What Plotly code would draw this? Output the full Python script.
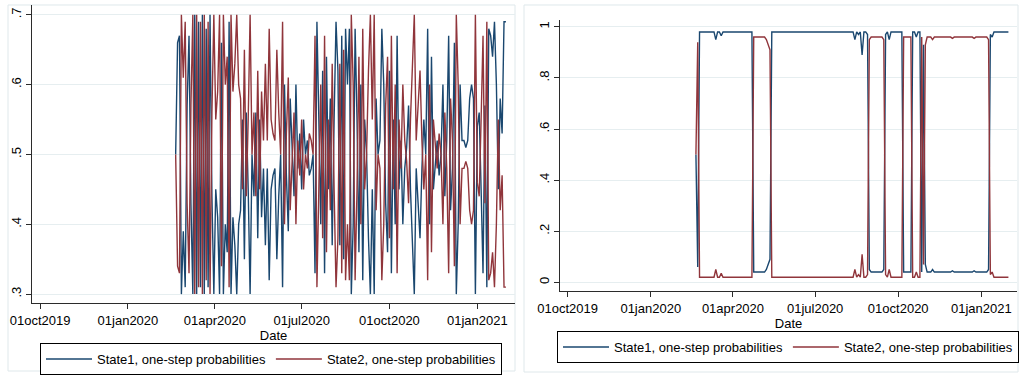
import pandas as pd
import plotly.graph_objects as go

# ---------------- data ----------------
start_date = "2020-02-20"
step = "2D"

left_state1 = [
    0.50, 0.66, 0.67, 0.30, 0.39, 0.31, 0.57, 0.67, 0.43, 0.30,
    0.70, 0.30, 0.69, 0.31, 0.70, 0.30, 0.68, 0.31, 0.70, 0.44,
    0.30, 0.45, 0.41, 0.30, 0.66, 0.30, 0.40, 0.36, 0.69, 0.30,
    0.41, 0.37, 0.30, 0.40, 0.42, 0.55, 0.35, 0.56, 0.45, 0.30,
    0.50, 0.44, 0.56, 0.38, 0.55, 0.41, 0.48, 0.37, 0.48, 0.32,
    0.45, 0.47, 0.48, 0.35, 0.44, 0.50, 0.31, 0.60, 0.47, 0.39,
    0.58, 0.52, 0.44, 0.60, 0.48, 0.53, 0.45, 0.55, 0.50, 0.52,
    0.47, 0.48, 0.50, 0.33, 0.69, 0.55, 0.40, 0.62, 0.33, 0.64,
    0.45, 0.58, 0.37, 0.55, 0.69, 0.62, 0.37, 0.67, 0.35, 0.68,
    0.60, 0.68, 0.30, 0.40, 0.68, 0.55, 0.36, 0.60, 0.32, 0.55,
    0.50, 0.38, 0.30, 0.45, 0.30, 0.58, 0.50, 0.52, 0.68, 0.60,
    0.43, 0.36, 0.62, 0.33, 0.55, 0.40, 0.67, 0.45, 0.52, 0.40,
    0.48, 0.51, 0.57, 0.45, 0.36, 0.30, 0.48, 0.42, 0.38, 0.48,
    0.55, 0.50, 0.68, 0.40, 0.64, 0.45, 0.48, 0.52, 0.47, 0.50,
    0.60, 0.44, 0.52, 0.67, 0.42, 0.48, 0.66, 0.30, 0.40, 0.60,
    0.52, 0.52, 0.51, 0.52, 0.58, 0.60, 0.58, 0.30, 0.54, 0.56,
    0.45, 0.33, 0.57, 0.31, 0.68, 0.67, 0.64, 0.69, 0.60, 0.45,
    0.58, 0.53, 0.69, 0.69,
]

left_state2 = [
    0.50, 0.34, 0.33, 0.70, 0.61, 0.69, 0.43, 0.33, 0.57, 0.70,
    0.30, 0.70, 0.31, 0.69, 0.30, 0.70, 0.32, 0.69, 0.30, 0.56,
    0.70, 0.55, 0.59, 0.70, 0.34, 0.70, 0.60, 0.64, 0.31, 0.70,
    0.59, 0.63, 0.70, 0.60, 0.58, 0.45, 0.65, 0.44, 0.55, 0.70,
    0.50, 0.56, 0.44, 0.62, 0.45, 0.59, 0.52, 0.63, 0.52, 0.68,
    0.55, 0.53, 0.52, 0.65, 0.56, 0.50, 0.69, 0.40, 0.53, 0.61,
    0.42, 0.48, 0.56, 0.40, 0.52, 0.47, 0.55, 0.45, 0.50, 0.48,
    0.53, 0.52, 0.50, 0.67, 0.31, 0.45, 0.60, 0.38, 0.67, 0.36,
    0.55, 0.42, 0.63, 0.45, 0.31, 0.38, 0.63, 0.33, 0.65, 0.32,
    0.40, 0.32, 0.70, 0.60, 0.32, 0.45, 0.64, 0.40, 0.68, 0.45,
    0.50, 0.62, 0.70, 0.55, 0.70, 0.42, 0.50, 0.48, 0.32, 0.40,
    0.57, 0.64, 0.38, 0.67, 0.45, 0.60, 0.33, 0.55, 0.48, 0.60,
    0.52, 0.49, 0.43, 0.55, 0.64, 0.70, 0.52, 0.58, 0.62, 0.52,
    0.45, 0.50, 0.32, 0.60, 0.36, 0.55, 0.52, 0.48, 0.53, 0.50,
    0.40, 0.56, 0.48, 0.33, 0.58, 0.52, 0.34, 0.70, 0.60, 0.40,
    0.48, 0.48, 0.49, 0.48, 0.42, 0.40, 0.42, 0.70, 0.46, 0.44,
    0.55, 0.67, 0.43, 0.69, 0.32, 0.33, 0.36, 0.31, 0.40, 0.55,
    0.42, 0.47, 0.31, 0.31,
]

right_state1 = [
    0.50, 0.06, 0.98, 0.98, 0.98, 0.98, 0.98, 0.98, 0.98, 0.98,
    0.98, 0.95, 0.98, 0.98, 0.965, 0.98, 0.98, 0.98, 0.98, 0.98,
    0.98, 0.98, 0.98, 0.98, 0.98, 0.98, 0.98, 0.98, 0.98, 0.98,
    0.98, 0.98, 0.04, 0.04, 0.04, 0.04, 0.04, 0.04, 0.04, 0.05,
    0.07, 0.09, 0.98, 0.98, 0.98, 0.98, 0.98, 0.98, 0.98, 0.98,
    0.98, 0.98, 0.98, 0.98, 0.98, 0.98, 0.98, 0.98, 0.98, 0.98,
    0.98, 0.98, 0.98, 0.98, 0.98, 0.98, 0.98, 0.98, 0.98, 0.98,
    0.98, 0.98, 0.98, 0.98, 0.98, 0.98, 0.98, 0.98, 0.98, 0.98,
    0.98, 0.98, 0.98, 0.98, 0.98, 0.98, 0.98, 0.98, 0.95, 0.98,
    0.97, 0.98, 0.89, 0.98, 0.98, 0.97, 0.05, 0.04, 0.04, 0.04,
    0.04, 0.04, 0.04, 0.04, 0.05, 0.97, 0.98, 0.95, 0.98, 0.98,
    0.98, 0.98, 0.98, 0.98, 0.98, 0.04, 0.04, 0.04, 0.04, 0.04,
    0.98, 0.98, 0.96, 0.98, 0.98, 0.04, 0.93, 0.07, 0.04, 0.04,
    0.04, 0.05, 0.04, 0.04, 0.04, 0.04, 0.04, 0.04, 0.04, 0.04,
    0.04, 0.04, 0.045, 0.04, 0.04, 0.04, 0.04, 0.04, 0.04, 0.04,
    0.04, 0.04, 0.04, 0.04, 0.045, 0.04, 0.04, 0.04, 0.04, 0.04,
    0.04, 0.04, 0.05, 0.97, 0.96, 0.98, 0.98, 0.98, 0.98, 0.98,
    0.98, 0.98, 0.98, 0.98,
]

right_state2 = [
    0.50, 0.94, 0.02, 0.02, 0.02, 0.02, 0.02, 0.02, 0.02, 0.02,
    0.02, 0.05, 0.02, 0.02, 0.035, 0.02, 0.02, 0.02, 0.02, 0.02,
    0.02, 0.02, 0.02, 0.02, 0.02, 0.02, 0.02, 0.02, 0.02, 0.02,
    0.02, 0.02, 0.96, 0.96, 0.96, 0.96, 0.96, 0.96, 0.96, 0.95,
    0.93, 0.91, 0.02, 0.02, 0.02, 0.02, 0.02, 0.02, 0.02, 0.02,
    0.02, 0.02, 0.02, 0.02, 0.02, 0.02, 0.02, 0.02, 0.02, 0.02,
    0.02, 0.02, 0.02, 0.02, 0.02, 0.02, 0.02, 0.02, 0.02, 0.02,
    0.02, 0.02, 0.02, 0.02, 0.02, 0.02, 0.02, 0.02, 0.02, 0.02,
    0.02, 0.02, 0.02, 0.02, 0.02, 0.02, 0.02, 0.02, 0.05, 0.02,
    0.03, 0.02, 0.11, 0.02, 0.02, 0.03, 0.95, 0.96, 0.96, 0.96,
    0.96, 0.96, 0.96, 0.96, 0.95, 0.03, 0.02, 0.05, 0.02, 0.02,
    0.02, 0.02, 0.02, 0.02, 0.02, 0.96, 0.96, 0.96, 0.96, 0.96,
    0.02, 0.02, 0.04, 0.02, 0.02, 0.96, 0.07, 0.93, 0.96, 0.96,
    0.96, 0.95, 0.96, 0.96, 0.96, 0.96, 0.96, 0.96, 0.96, 0.96,
    0.96, 0.96, 0.955, 0.96, 0.96, 0.96, 0.96, 0.96, 0.96, 0.96,
    0.96, 0.96, 0.96, 0.96, 0.955, 0.96, 0.96, 0.96, 0.96, 0.96,
    0.96, 0.96, 0.95, 0.03, 0.04, 0.02, 0.02, 0.02, 0.02, 0.02,
    0.02, 0.02, 0.02, 0.02,
]

series_names = ["State1, one-step probabilities", "State2, one-step probabilities"]
x_tick_dates = ["2019-10-01", "2020-01-01", "2020-04-01", "2020-07-01", "2020-10-01", "2021-01-01"]
x_tick_labels = ["01oct2019", "01jan2020", "01apr2020", "01jul2020", "01oct2020", "01jan2021"]
left_y_ticks = [0.3, 0.4, 0.5, 0.6, 0.7]
left_y_labels = [".3", ".4", ".5", ".6", ".7"]
right_y_ticks = [0, 0.2, 0.4, 0.6, 0.8, 1]
right_y_labels = ["0", ".2", ".4", ".6", ".8", "1"]
x_title = "Date"

# ---------------- style ----------------
W, H = 1019, 375
NAVY = "#1a476f"
MAROON = "#90353b"
AXIS = "#2b2b2b"
GRID = "#e6eef0"
FRAME = "#dfe8eb"
FONT = "Liberation Sans, Arial, sans-serif"


def px(x):
    return x / W


def py(y):
    return 1 - y / H


dates_left = pd.date_range(start_date, periods=len(left_state1), freq=step)
dates_right = pd.date_range(start_date, periods=len(right_state1), freq=step)

fig = go.Figure()
for vals, col, name in [(left_state1, NAVY, series_names[0]), (left_state2, MAROON, series_names[1])]:
    fig.add_trace(go.Scatter(x=dates_left, y=vals, mode="lines", name=name,
                             line=dict(color=col, width=1.4),
                             xaxis="x", yaxis="y", legend="legend"))
for vals, col, name in [(right_state1, NAVY, series_names[0]), (right_state2, MAROON, series_names[1])]:
    fig.add_trace(go.Scatter(x=dates_right, y=vals, mode="lines", name=name,
                             line=dict(color=col, width=1.4),
                             xaxis="x2", yaxis="y2", legend="legend2"))

x_range = ["2019-09-22 12:00", "2021-02-09 12:00"]
common_x = dict(type="date", range=x_range, tickmode="array", tickvals=x_tick_dates,
                ticktext=x_tick_labels, ticks="outside", ticklen=5, tickcolor=AXIS,
                showline=True, linecolor=AXIS, linewidth=1, showgrid=False, zeroline=False,
                tickfont=dict(size=13, color="black", family=FONT),
                title=dict(text=x_title, font=dict(size=13, color="black", family=FONT), standoff=0),
                automargin=False)
common_y = dict(tickmode="array", tickangle=-90, ticks="outside", ticklen=5, tickcolor=AXIS,
                showline=True, linecolor=AXIS, linewidth=1, showgrid=True, gridcolor=GRID,
                gridwidth=1, zeroline=False,
                tickfont=dict(size=13, color="black", family=FONT), automargin=False)

legend_common = dict(orientation="h", bgcolor="white", bordercolor="black", borderwidth=1,
                     font=dict(size=13, color="black", family=FONT), xanchor="left",
                     yanchor="top", itemwidth=46)

fig.update_layout(
    width=W, height=H, autosize=False,
    margin=dict(l=0, r=0, t=0, b=0),
    paper_bgcolor="white", plot_bgcolor="white",
    font=dict(family=FONT, size=13, color="black"),
    xaxis=dict(domain=[px(32), px(515)], anchor="y", **common_x),
    yaxis=dict(domain=[py(304), py(5)], anchor="x", range=[0.287, 0.714],
               tickvals=left_y_ticks, ticktext=left_y_labels, **common_y),
    xaxis2=dict(domain=[px(560), px(1017)], anchor="y2", **common_x),
    yaxis2=dict(domain=[py(292), py(20)], anchor="x2", range=[-0.035, 1.027],
                tickvals=right_y_ticks, ticktext=right_y_labels, **common_y),
    legend=dict(x=px(40), y=py(344), **legend_common),
    legend2=dict(x=px(557), y=py(331), **legend_common),
    showlegend=True,
    shapes=[
        dict(type="rect", xref="paper", yref="paper", x0=px(8), x1=px(515), y0=py(372), y1=py(5),
             line=dict(color=FRAME, width=1), layer="below"),
        dict(type="rect", xref="paper", yref="paper", x0=px(524), x1=px(1018), y0=py(373), y1=py(5),
             line=dict(color=FRAME, width=1), layer="below"),
    ],
)

fig.write_html("out.html")
